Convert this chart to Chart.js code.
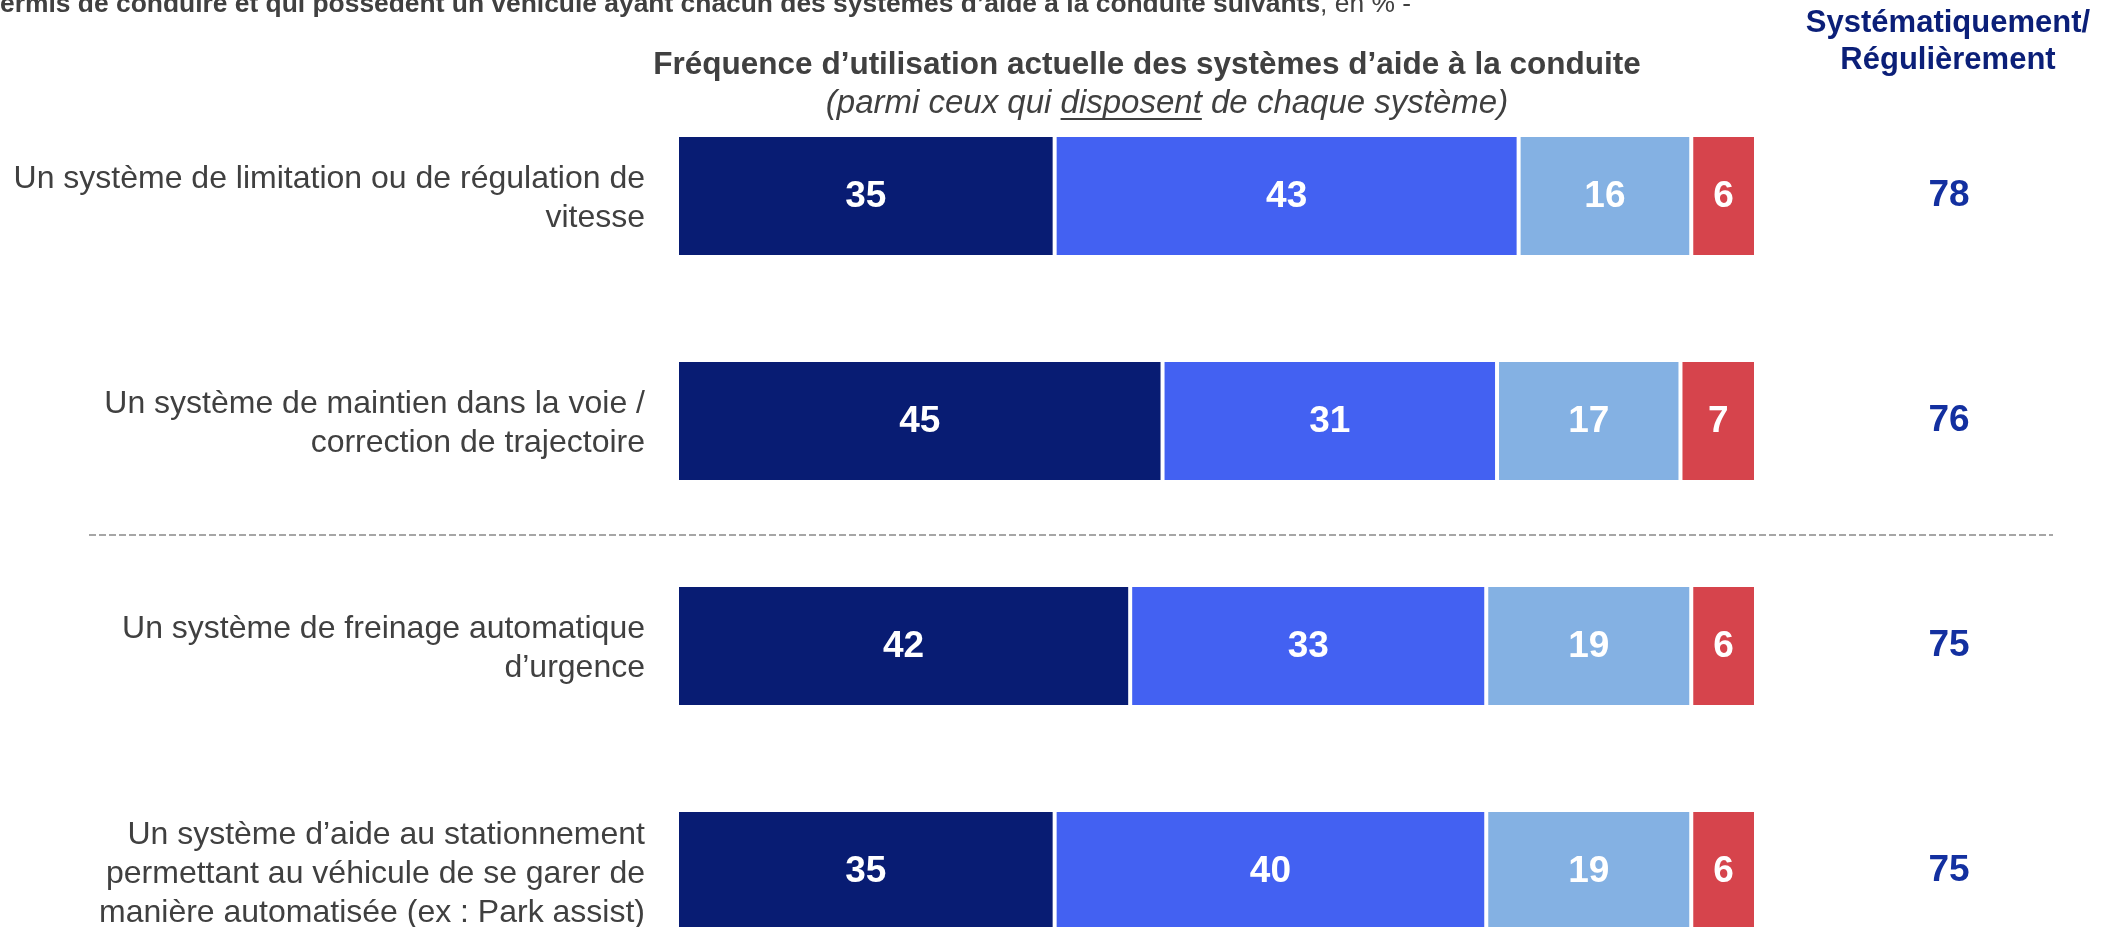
<!DOCTYPE html>
<html>
<head>
<meta charset="utf-8">
<script src="https://cdn.jsdelivr.net/npm/chart.js@4/dist/chart.umd.min.js"></script>
<style>
  html, body { margin: 0; padding: 0; background: #fff; overflow: hidden; }
  #wrap { position: relative; width: 2123px; height: 990px; }
</style>
</head>
<body>
<div id="wrap"><canvas id="chart" width="2123" height="990"></canvas></div>
<script>
const categories = [
    ["Un système de limitation ou de régulation de", "vitesse"],
    ["Un système de maintien dans la voie /", "correction de trajectoire"],
    ["Un système de freinage automatique", "d’urgence"],
    ["Un système d’aide au stationnement", "permettant au véhicule de se garer de", "manière automatisée (ex : Park assist)"]
];
const seriesNames = ["Systématiquement", "Régulièrement", "Rarement", "Jamais"];
const systematique = [35, 45, 42, 35];
const regulierement = [43, 31, 33, 40];
const rarement = [16, 17, 19, 19];
const jamais = [6, 7, 6, 6];
const totals = [78, 76, 75, 75];

const colors = ["#081C73", "#4361F2", "#84B1E3", "#D6444C"];
const FONT = "'Liberation Sans', Arial, sans-serif";

// Titles, side labels, totals and value labels
const overlay = {
    id: "overlay",
    afterDatasetsDraw(chart) {
        const ctx = chart.ctx;
        const yScale = chart.scales.y;
        ctx.save();

        // value labels inside the bars
        ctx.fillStyle = "#fff";
        ctx.font = "bold 37px " + FONT;
        ctx.textAlign = "center";
        ctx.textBaseline = "middle";
        chart.data.datasets.forEach((ds, i) => {
            chart.getDatasetMeta(i).data.forEach((bar, j) => {
                ctx.fillText(ds.data[j], (bar.x + bar.base) / 2, bar.y + 1);
            });
        });

        // category labels on the left
        ctx.fillStyle = "#404040";
        ctx.font = "32px " + FONT;
        ctx.textAlign = "right";
        categories.forEach((lines, i) => {
            const cy = yScale.getPixelForValue(i);
            const lh = 39;
            const start = cy - (lines.length - 1) * lh / 2;
            lines.forEach((line, k) => ctx.fillText(line, 645, start + k * lh + 3));
        });

        // totals column
        ctx.fillStyle = "#1330A0";
        ctx.font = "bold 37px " + FONT;
        ctx.textAlign = "center";
        totals.forEach((t, i) => ctx.fillText(t, 1949, yScale.getPixelForValue(i)));

        ctx.fillStyle = "#0B1F78";
        ctx.font = "bold 31px " + FONT;
        ctx.fillText("Systématiquement/", 1948, 23);
        ctx.fillText("Régulièrement", 1948, 60);

        // separator between the two groups
        const sepY = (yScale.getPixelForValue(1) + yScale.getPixelForValue(2)) / 2 + 1.5;
        ctx.strokeStyle = "#A6A6A6";
        ctx.lineWidth = 2;
        ctx.setLineDash([7, 3]);
        ctx.beginPath();
        ctx.moveTo(89, sepY);
        ctx.lineTo(2053, sepY);
        ctx.stroke();
        ctx.setLineDash([]);

        // chart title
        ctx.fillStyle = "#404040";
        ctx.font = "bold 31.5px " + FONT;
        ctx.fillText("Fréquence d’utilisation actuelle des systèmes d’aide à la conduite", 1147, 65);

        // subtitle with underlined word
        ctx.font = "italic 33px " + FONT;
        const parts = ["(parmi ceux qui ", "disposent", " de chaque système)"];
        const widths = parts.map(p => ctx.measureText(p).width);
        let x = 1167 - widths.reduce((a, b) => a + b, 0) / 2;
        ctx.textAlign = "left";
        parts.forEach((p, k) => {
            ctx.fillText(p, x, 104);
            if (k === 1) {
                ctx.fillRect(x, 118, widths[k], 2);
            }
            x += widths[k];
        });

        // cut-off header line at the very top
        ctx.textBaseline = "alphabetic";
        ctx.font = "bold 26.4px " + FONT;
        const head = "permis de conduire et qui possèdent un véhicule ayant chacun des systèmes d’aide à la conduite suivants";
        ctx.fillText(head, -16, 12);
        const hw = ctx.measureText(head).width;
        ctx.font = "26.4px " + FONT;
        ctx.fillText(", en % -", -16 + hw, 12);

        ctx.restore();
    }
};

const mkSet = (label, data, color) => ({
    label: label,
    data: data,
    backgroundColor: color,
    borderColor: "#fff",
    borderWidth: { left: 2, right: 2, top: 0, bottom: 0 },
    borderSkipped: false,
    barPercentage: 0.524,
    categoryPercentage: 1
});

new Chart(document.getElementById("chart").getContext("2d"), {
    type: "bar",
    data: {
        labels: categories,
        datasets: [
            mkSet(seriesNames[0], systematique, colors[0]),
            mkSet(seriesNames[1], regulierement, colors[1]),
            mkSet(seriesNames[2], rarement, colors[2]),
            mkSet(seriesNames[3], jamais, colors[3])
        ]
    },
    options: {
        indexAxis: "y",
        responsive: false,
        animation: false,
        layout: { padding: { left: 677, right: 367, top: 83.5, bottom: 6.5 } },
        plugins: {
            legend: { display: false },
            tooltip: { enabled: false }
        },
        scales: {
            x: { stacked: true, min: 0, max: 100, display: false },
            y: { stacked: true, display: false }
        }
    },
    plugins: [overlay]
});
</script>
</body>
</html>
